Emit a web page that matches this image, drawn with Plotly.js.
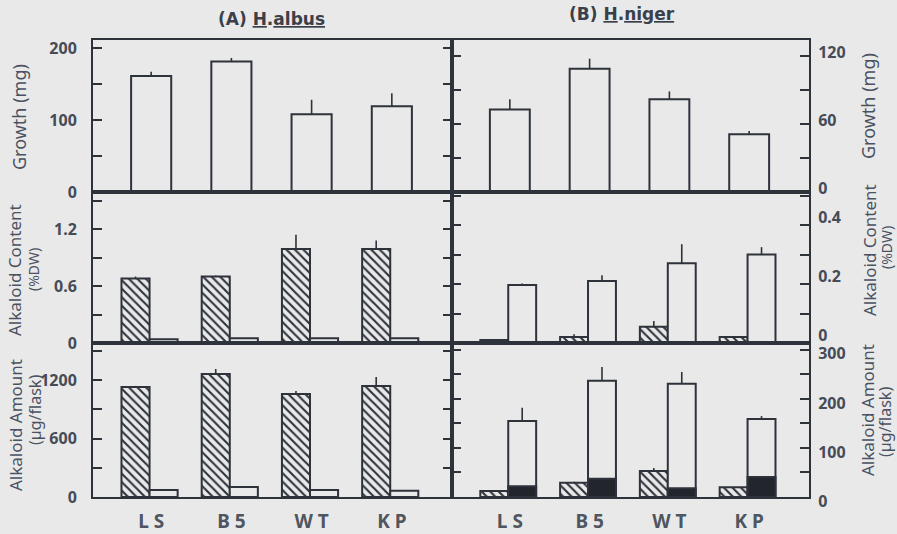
<!DOCTYPE html>
<html>
<head>
<meta charset="utf-8">
<script src="https://cdn.plot.ly/plotly-3.0.1.min.js"></script>
<style>html,body{margin:0;padding:0;background:#e9e9e9;}#chart{width:897px;height:534px;}</style>
</head>
<body>
<div id="chart"></div>
<script>
// ---- data ----
const categories = ['LS', 'B5', 'WT', 'KP'];
const tickLabels = ['L S', 'B 5', 'W T', 'K P'];

// (A) H. albus
const albusGrowth = [161, 181, 108, 119];
const albusGrowthErr = [6, 5, 20, 18];
const albusContentHatched = [0.68, 0.70, 0.99, 0.99];
const albusContentHatchedErr = [0.02, 0.01, 0.15, 0.09];
const albusContentWhite = [0.04, 0.05, 0.05, 0.05];
const albusAmountHatched = [1128, 1262, 1056, 1138];
const albusAmountHatchedErr = [12, 51, 31, 93];
const albusAmountWhite = [72, 103, 72, 65];

// (B) H. niger
const nigerGrowth = [73, 109, 82, 51];
const nigerGrowthErr = [9, 9, 7, 3];
const nigerContentHatched = [0.01, 0.02, 0.055, 0.02];
const nigerContentHatchedErr = [0, 0.01, 0.02, 0];
const nigerContentWhite = [0.197, 0.21, 0.27, 0.30];
const nigerContentWhiteErr = [0.005, 0.02, 0.065, 0.025];
const nigerAmountHatched = [12, 29, 53, 20];
const nigerAmountHatchedErr = [0, 2, 6, 0];
const nigerAmountWhite = [155, 237, 231, 159];
const nigerAmountWhiteErr = [27, 28, 24, 6];
const nigerAmountBlack = [22, 37, 18, 41];

// ---- style ----
const BG = '#e9e9e9';
const INK = '#2e323b';
const TXT = '#4a5262';

function err(a) {
  return a ? {type: 'data', symmetric: false, array: a, arrayminus: a.map(() => 0),
    color: INK, thickness: 1.6, width: 0, visible: true} : {visible: false};
}
function plain(xa, ya, y, e, width, offset) {
  return {type: 'bar', x: categories, y: y, xaxis: xa, yaxis: ya, width: width, offset: offset,
    marker: {color: BG, line: {color: INK, width: 2}}, error_y: err(e), hoverinfo: 'skip', showlegend: false};
}
function hatched(xa, ya, y, e, width, offset) {
  return {type: 'bar', x: categories, y: y, xaxis: xa, yaxis: ya, width: width, offset: offset,
    marker: {color: BG, line: {color: INK, width: 2},
      pattern: {shape: '\\', fgcolor: INK, bgcolor: BG, size: 6, solidity: 0.35}},
    error_y: err(e), hoverinfo: 'skip', showlegend: false};
}
function solid(xa, ya, y, width, offset) {
  return {type: 'bar', x: categories, y: y, xaxis: xa, yaxis: ya, width: width, offset: offset,
    marker: {color: '#22252c', line: {color: INK, width: 2}}, hoverinfo: 'skip', showlegend: false};
}

const W = 0.35, OH = -0.37, OW = -0.02;
const data = [
  plain('x', 'y', albusGrowth, albusGrowthErr, 0.5, -0.25),
  plain('x2', 'y2', nigerGrowth, nigerGrowthErr, 0.5, -0.25),
  hatched('x3', 'y3', albusContentHatched, albusContentHatchedErr, W, OH),
  plain('x3', 'y3', albusContentWhite, null, W, OW),
  hatched('x4', 'y4', nigerContentHatched, nigerContentHatchedErr, W, OH),
  plain('x4', 'y4', nigerContentWhite, nigerContentWhiteErr, W, OW),
  hatched('x5', 'y5', albusAmountHatched, albusAmountHatchedErr, W, OH),
  plain('x5', 'y5', albusAmountWhite, null, W, OW),
  hatched('x6', 'y6', nigerAmountHatched, nigerAmountHatchedErr, W, OH),
  plain('x6', 'y6', nigerAmountWhite, nigerAmountWhiteErr, W, OW),
  solid('x6', 'y6', nigerAmountBlack, W, OW)
];

// ---- layout ----
const L = 93, R = 809, T = 40, B = 497;
const px = v => (v - L) / (R - L);
const py = v => (B - v) / (B - T);
const rows = {top: [py(192), 1], mid: [py(343), py(192)], bot: [0, py(343)]};
const cols = {left: [0, px(452)], right: [px(452), 1]};
const xr = [-0.725, 3.75];

function xax(dom, anchor, showLabels) {
  return {domain: dom, anchor: anchor, type: 'category', range: xr, showline: true, mirror: true,
    linecolor: INK, linewidth: 2, ticks: '', showgrid: false, zeroline: false,
    showticklabels: showLabels, tickvals: categories, ticktext: tickLabels, ticklabelstandoff: 6,
    tickfont: {family: 'Noto Sans', size: 19, color: '#50565f', weight: 'bold'}, fixedrange: true};
}
function yax(dom, anchor, side, range, dtick, minor, shift) {
  return {domain: dom, anchor: anchor, side: side, range: range, dtick: dtick, tick0: 0,
    showline: true, mirror: 'ticks', linecolor: INK, linewidth: 2,
    ticks: 'inside', ticklen: 9, tickwidth: 2, tickcolor: INK,
    minor: {dtick: minor, tick0: 0, ticks: 'inside', ticklen: 9, tickwidth: 2, tickcolor: INK},
    showgrid: false, zeroline: false, ticklabelstandoff: side === 'left' ? 11 : 4,
    ticklabelshift: shift || 0,
    tickfont: {family: 'Noto Sans', size: 16, color: '#454b57', weight: 'bold'}, fixedrange: true};
}

function vtitle(x, y, text, size) {
  return {xref: 'paper', yref: 'paper', x: px(x), y: py(y), text: text, textangle: -90,
    showarrow: false, xanchor: 'center', yanchor: 'middle',
    font: {family: 'Noto Sans', size: size, color: TXT}};
}

const layout = {
  width: 897, height: 534,
  margin: {l: L, r: 897 - R, t: T, b: 534 - B, pad: 0},
  paper_bgcolor: BG, plot_bgcolor: BG,
  barmode: 'overlay', showlegend: false,
  xaxis: xax(cols.left, 'y', false),
  xaxis2: xax(cols.right, 'y2', false),
  xaxis3: xax(cols.left, 'y3', false),
  xaxis4: xax(cols.right, 'y4', false),
  xaxis5: xax(cols.left, 'y5', true),
  xaxis6: xax(cols.right, 'y6', true),
  yaxis: yax(rows.top, 'x', 'left', [0, 211], 100, 50),
  yaxis2: yax(rows.top, 'x2', 'right', [0, 134.5], 60, 30, -4),
  yaxis3: yax(rows.mid, 'x3', 'left', [0, 1.59], 0.6, 0.3),
  yaxis4: yax(rows.mid, 'x4', 'right', [0, 0.512], 0.2, 0.1, -8),
  yaxis5: yax(rows.bot, 'x5', 'left', [0, 1580], 600, 300),
  yaxis6: yax(rows.bot, 'x6', 'right', [0, 314], 100, 50, 4),
  annotations: [
    {xref: 'paper', yref: 'paper', x: px(271), y: py(19), xanchor: 'center', yanchor: 'middle',
      text: '(A) <u>H</u>.<u>albus</u>', showarrow: false,
      font: {family: 'DejaVu Sans', size: 17, color: '#3a3f49', weight: 'bold'}},
    {xref: 'paper', yref: 'paper', x: px(622), y: py(14), xanchor: 'center', yanchor: 'middle',
      text: '(B) <u>H</u>.<u>niger</u>', showarrow: false,
      font: {family: 'DejaVu Sans', size: 17, color: '#3a3f49', weight: 'bold'}},
    vtitle(19, 117, 'Growth (mg)', 18),
    vtitle(14, 270, 'Alkaloid Content', 17),
    vtitle(33, 270, '(%DW)', 14),
    vtitle(16, 425, 'Alkaloid Amount', 17),
    vtitle(35, 410, '(µg/flask)', 16),
    vtitle(868, 106, 'Growth (mg)', 18),
    vtitle(870, 250, 'Alkaloid Content', 17),
    vtitle(886, 248, '(%DW)', 14),
    vtitle(867, 410, 'Alkaloid Amount', 17),
    vtitle(885, 422, '(µg/flask)', 16)
  ]
};

Plotly.newPlot('chart', data, layout, {staticPlot: true, displayModeBar: false});
</script>
</body>
</html>
